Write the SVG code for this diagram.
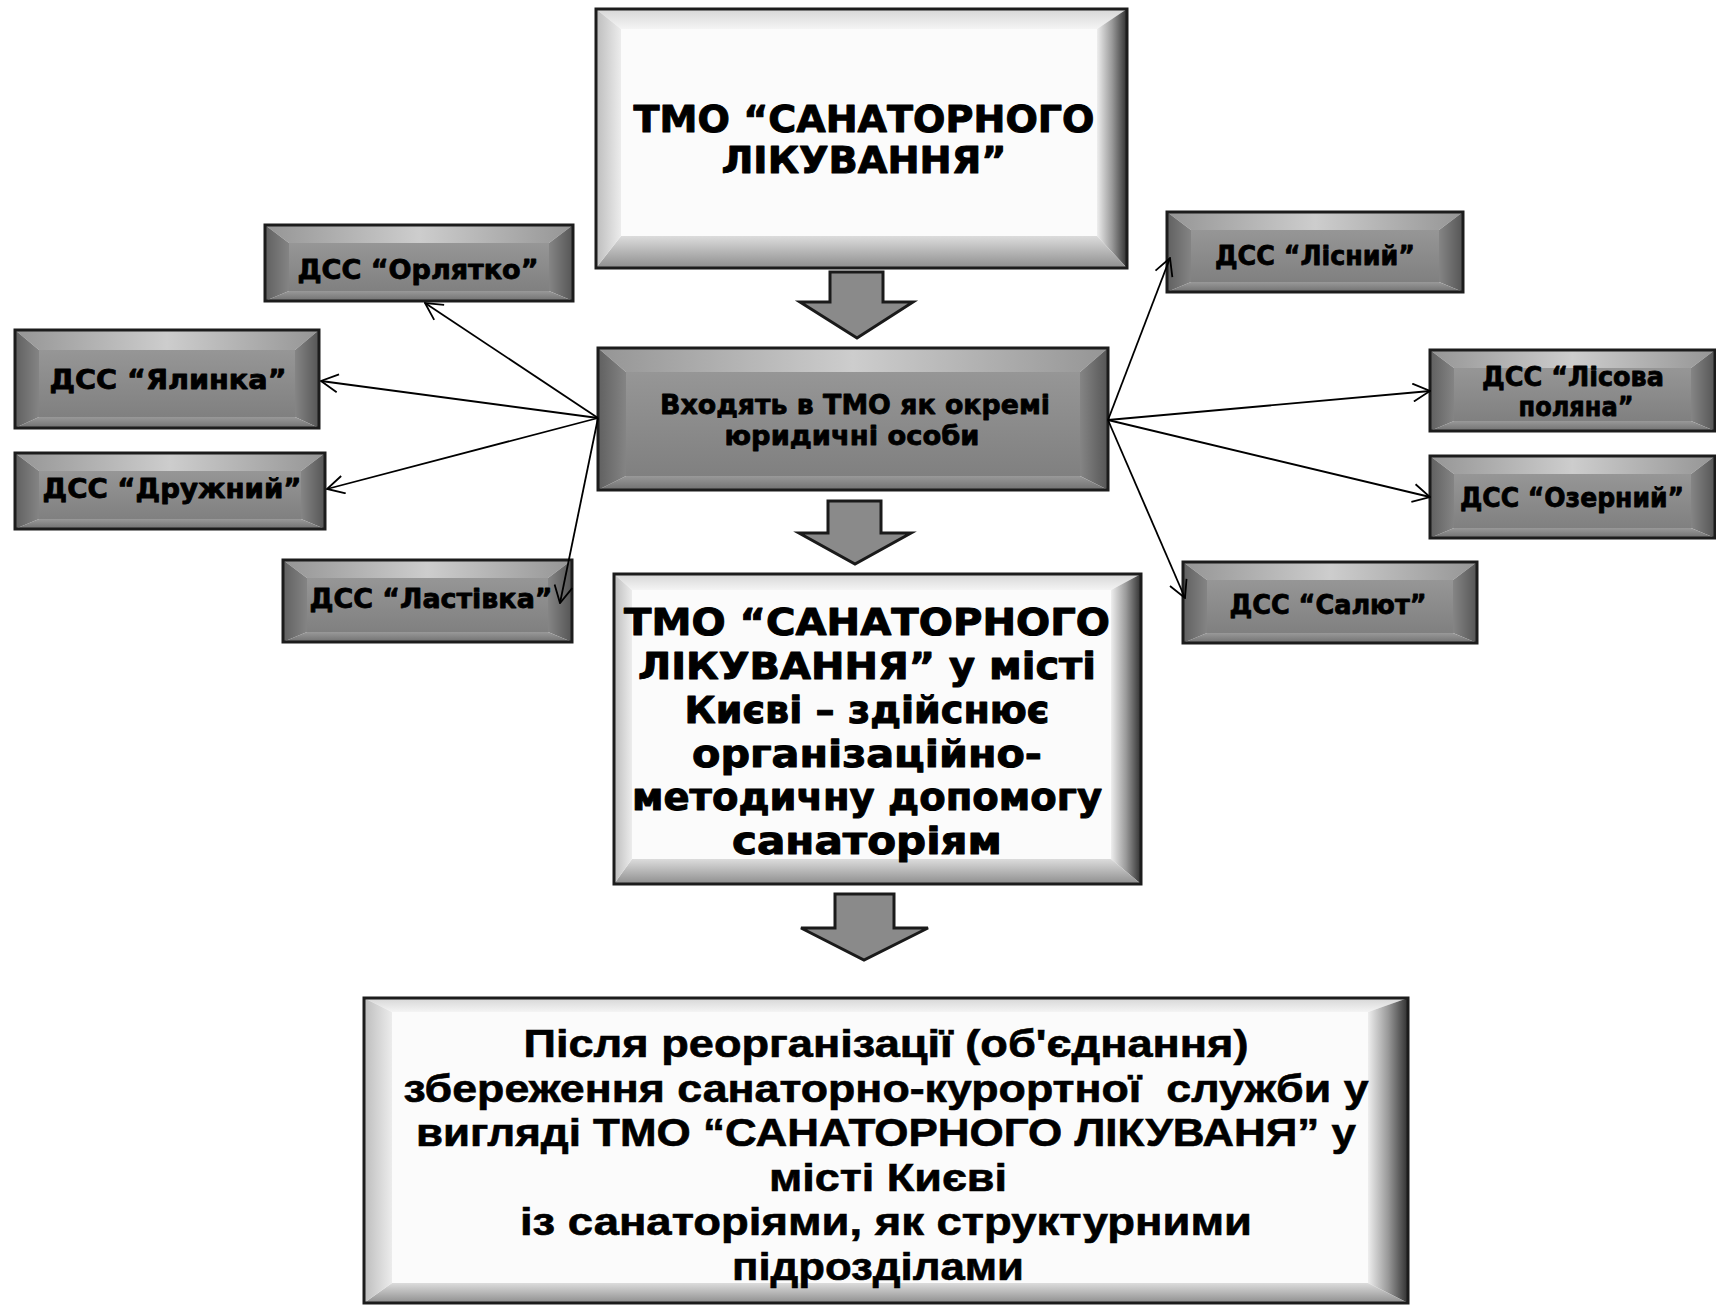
<svg xmlns="http://www.w3.org/2000/svg" width="1716" height="1305" viewBox="0 0 1716 1305">
<defs>
<linearGradient id="wT" x1="0" y1="0" x2="0" y2="1"><stop offset="0" stop-color="#d6d6d6"/><stop offset="1" stop-color="#f4f4f4"/></linearGradient>
<linearGradient id="wL" x1="0" y1="0" x2="1" y2="0"><stop offset="0" stop-color="#bdbdbd"/><stop offset="1" stop-color="#ececec"/></linearGradient>
<linearGradient id="wR" x1="0" y1="0" x2="1" y2="0"><stop offset="0" stop-color="#eeeeee"/><stop offset="0.5" stop-color="#9a9a9a"/><stop offset="1" stop-color="#303030"/></linearGradient>
<linearGradient id="wB" x1="0" y1="0" x2="0" y2="1"><stop offset="0" stop-color="#dcdcdc"/><stop offset="1" stop-color="#8e8e8e"/></linearGradient>
<linearGradient id="dT" x1="0" y1="0" x2="1" y2="0"><stop offset="0" stop-color="#959595"/><stop offset="0.5" stop-color="#cdcdcd"/><stop offset="1" stop-color="#959595"/></linearGradient>
<linearGradient id="dL" x1="0" y1="0" x2="1" y2="0"><stop offset="0" stop-color="#606060"/><stop offset="1" stop-color="#848484"/></linearGradient>
<linearGradient id="dR" x1="0" y1="0" x2="1" y2="0"><stop offset="0" stop-color="#858585"/><stop offset="1" stop-color="#555"/></linearGradient>
<linearGradient id="dB" x1="0" y1="0" x2="0" y2="1"><stop offset="0" stop-color="#999"/><stop offset="1" stop-color="#707070"/></linearGradient>
<linearGradient id="dF" x1="0" y1="0" x2="0" y2="1"><stop offset="0" stop-color="#969696"/><stop offset="1" stop-color="#808080"/></linearGradient>
<marker id="arr" viewBox="0 0 20 20" refX="19" refY="10" markerWidth="20" markerHeight="20" markerUnits="userSpaceOnUse" orient="auto">
<path d="M2,1 L19,10 L2,19" fill="none" stroke="#000" stroke-width="1.8"/>
</marker>
</defs>
<style>
.w .t{fill:url(#wT)} .w .r{fill:url(#wR)} .w .b{fill:url(#wB)} .w .l{fill:url(#wL)} .w .f{fill:#fbfbfb}
.d .t{fill:url(#dT)} .d .r{fill:url(#dR)} .d .b{fill:url(#dB)} .d .l{fill:url(#dL)} .d .f{fill:url(#dF)}
.bd{fill:none;stroke:#1c1c1c;stroke-width:3}
.k{font-family:"DejaVu Sans","Liberation Sans",sans-serif;font-weight:bold;text-anchor:middle;fill:#000;stroke:#000;stroke-width:1;stroke-linejoin:round}
.dss{font-size:26px;stroke-width:0.8}
.n{font-family:"Liberation Sans","DejaVu Sans",sans-serif;font-weight:bold;text-anchor:middle;fill:#000;font-size:38px;stroke:#000;stroke-width:0.6}
.big{fill:#8a8a8a;stroke:#1a1a1a;stroke-width:3}
.conn line{stroke:#000;stroke-width:1.8;marker-end:url(#arr)}
</style>
<rect width="1716" height="1305" fill="#fff"/>

<g id="tmo-top" class="w">
<polygon class="t" points="596,9 1127,9 1097,29 621,29"/>
<polygon class="r" points="1127,9 1127,268 1097,236 1097,29"/>
<polygon class="b" points="596,268 1127,268 1097,236 621,236"/>
<polygon class="l" points="596,9 621,29 621,236 596,268"/>
<rect class="f" x="621" y="29" width="476" height="207"/>
<rect class="bd" x="596" y="9" width="531" height="259"/>
<text class="k" font-size="38" x="864" y="132" textLength="461" lengthAdjust="spacingAndGlyphs">ТМО “САНАТОРНОГО</text>
<text class="k" font-size="38" x="864" y="173" textLength="285" lengthAdjust="spacingAndGlyphs">ЛІКУВАННЯ”</text>
</g>

<g id="vkhodyat" class="d">
<polygon class="t" points="598,348 1108,348 1080,372 626,372"/>
<polygon class="r" points="1108,348 1108,490 1080,476 1080,372"/>
<polygon class="b" points="598,490 1108,490 1080,476 626,476"/>
<polygon class="l" points="598,348 626,372 626,476 598,490"/>
<rect class="f" x="626" y="372" width="454" height="104"/>
<rect class="bd" x="598" y="348" width="510" height="142"/>
<text class="k" font-size="27" x="855" y="414" textLength="390" lengthAdjust="spacingAndGlyphs" style="stroke-width:0.8">Входять в ТМО як окремі</text>
<text class="k" font-size="27" x="852" y="445" textLength="255" lengthAdjust="spacingAndGlyphs" style="stroke-width:0.8">юридичні особи</text>
</g>

<g id="orlyatko" class="d">
<polygon class="t" points="265,225 573,225 549,243 289,243"/>
<polygon class="r" points="573,225 573,301 549,291 549,243"/>
<polygon class="b" points="265,301 573,301 549,291 289,291"/>
<polygon class="l" points="265,225 289,243 289,291 265,301"/>
<rect class="f" x="289" y="243" width="260" height="48"/>
<rect class="bd" x="265" y="225" width="308" height="76"/>
<text class="k dss" x="418" y="279" textLength="241" lengthAdjust="spacingAndGlyphs">ДСС “Орлятко”</text>
</g>

<g id="yalynka" class="d">
<polygon class="t" points="15,330 319,330 295,350 39,350"/>
<polygon class="r" points="319,330 319,428 295,417 295,350"/>
<polygon class="b" points="15,428 319,428 295,417 39,417"/>
<polygon class="l" points="15,330 39,350 39,417 15,428"/>
<rect class="f" x="39" y="350" width="256" height="67"/>
<rect class="bd" x="15" y="330" width="304" height="98"/>
<text class="k dss" x="168" y="389" textLength="237" lengthAdjust="spacingAndGlyphs">ДСС “Ялинка”</text>
</g>

<g id="druzhnyi" class="d">
<polygon class="t" points="15,453 325,453 301,471 39,471"/>
<polygon class="r" points="325,453 325,529 301,519 301,471"/>
<polygon class="b" points="15,529 325,529 301,519 39,519"/>
<polygon class="l" points="15,453 39,471 39,519 15,529"/>
<rect class="f" x="39" y="471" width="262" height="48"/>
<rect class="bd" x="15" y="453" width="310" height="76"/>
<text class="k dss" x="172" y="498" textLength="259" lengthAdjust="spacingAndGlyphs">ДСС “Дружний”</text>
</g>

<g id="lastivka" class="d">
<polygon class="t" points="283,560 572,560 548,578 307,578"/>
<polygon class="r" points="572,560 572,642 548,632 548,578"/>
<polygon class="b" points="283,642 572,642 548,632 307,632"/>
<polygon class="l" points="283,560 307,578 307,632 283,642"/>
<rect class="f" x="307" y="578" width="241" height="54"/>
<rect class="bd" x="283" y="560" width="289" height="82"/>
<text class="k dss" x="431" y="608" textLength="243" lengthAdjust="spacingAndGlyphs">ДСС “Ластівка”</text>
</g>

<g id="lisnyi" class="d">
<polygon class="t" points="1167,212 1463,212 1439,230 1191,230"/>
<polygon class="r" points="1463,212 1463,292 1439,282 1439,230"/>
<polygon class="b" points="1167,292 1463,292 1439,282 1191,282"/>
<polygon class="l" points="1167,212 1191,230 1191,282 1167,292"/>
<rect class="f" x="1191" y="230" width="248" height="52"/>
<rect class="bd" x="1167" y="212" width="296" height="80"/>
<text class="k dss" x="1315" y="265" textLength="200" lengthAdjust="spacingAndGlyphs">ДСС “Лісний”</text>
</g>

<g id="lisova-polyana" class="d">
<polygon class="t" points="1430,350 1715,350 1691,368 1454,368"/>
<polygon class="r" points="1715,350 1715,431 1691,421 1691,368"/>
<polygon class="b" points="1430,431 1715,431 1691,421 1454,421"/>
<polygon class="l" points="1430,350 1454,368 1454,421 1430,431"/>
<rect class="f" x="1454" y="368" width="237" height="53"/>
<rect class="bd" x="1430" y="350" width="285" height="81"/>
<text class="k dss" x="1573" y="386" textLength="182" lengthAdjust="spacingAndGlyphs">ДСС “Лісова</text>
<text class="k dss" x="1576" y="416" textLength="115" lengthAdjust="spacingAndGlyphs">поляна”</text>
</g>

<g id="ozernyi" class="d">
<polygon class="t" points="1430,456 1715,456 1691,474 1454,474"/>
<polygon class="r" points="1715,456 1715,538 1691,528 1691,474"/>
<polygon class="b" points="1430,538 1715,538 1691,528 1454,528"/>
<polygon class="l" points="1430,456 1454,474 1454,528 1430,538"/>
<rect class="f" x="1454" y="474" width="237" height="54"/>
<rect class="bd" x="1430" y="456" width="285" height="82"/>
<text class="k dss" x="1572" y="507" textLength="224" lengthAdjust="spacingAndGlyphs">ДСС “Озерний”</text>
</g>

<g id="salyut" class="d">
<polygon class="t" points="1183,562 1477,562 1453,580 1207,580"/>
<polygon class="r" points="1477,562 1477,643 1453,633 1453,580"/>
<polygon class="b" points="1183,643 1477,643 1453,633 1207,633"/>
<polygon class="l" points="1183,562 1207,580 1207,633 1183,643"/>
<rect class="f" x="1207" y="580" width="246" height="53"/>
<rect class="bd" x="1183" y="562" width="294" height="81"/>
<text class="k dss" x="1328" y="614" textLength="197" lengthAdjust="spacingAndGlyphs">ДСС “Салют”</text>
</g>

<g id="tmo-kyiv" class="w">
<polygon class="t" points="614,574 1141,574 1111,590 632,590"/>
<polygon class="r" points="1141,574 1141,884 1111,859 1111,590"/>
<polygon class="b" points="614,884 1141,884 1111,859 632,859"/>
<polygon class="l" points="614,574 632,590 632,859 614,884"/>
<rect class="f" x="632" y="590" width="479" height="269"/>
<rect class="bd" x="614" y="574" width="527" height="310"/>
<text class="k" font-size="37" x="867" y="635" textLength="486" lengthAdjust="spacingAndGlyphs">ТМО “САНАТОРНОГО</text>
<text class="k" font-size="37" x="867" y="679" textLength="458" lengthAdjust="spacingAndGlyphs">ЛІКУВАННЯ” у місті</text>
<text class="k" font-size="37" x="867" y="723" textLength="365" lengthAdjust="spacingAndGlyphs">Києві – здійснює</text>
<text class="k" font-size="37" x="867" y="767" textLength="350" lengthAdjust="spacingAndGlyphs">організаційно-</text>
<text class="k" font-size="37" x="867" y="810" textLength="470" lengthAdjust="spacingAndGlyphs">методичну допомогу</text>
<text class="k" font-size="37" x="867" y="854" textLength="270" lengthAdjust="spacingAndGlyphs">санаторіям</text>
</g>

<g id="after-reorg" class="w">
<polygon class="t" points="364,998 1408,998 1368,1012 392,1012"/>
<polygon class="r" points="1408,998 1408,1303 1368,1283 1368,1012"/>
<polygon class="b" points="364,1303 1408,1303 1368,1283 392,1283"/>
<polygon class="l" points="364,998 392,1012 392,1283 364,1303"/>
<rect class="f" x="392" y="1012" width="976" height="271"/>
<rect class="bd" x="364" y="998" width="1044" height="305"/>
<text class="n" x="886" y="1057" textLength="725" lengthAdjust="spacingAndGlyphs">Після реорганізації (об'єднання)</text>
<text class="n" x="886" y="1102" textLength="965" lengthAdjust="spacingAndGlyphs" xml:space="preserve">збереження санаторно-курортної  служби у</text>
<text class="n" x="886" y="1146" textLength="940" lengthAdjust="spacingAndGlyphs">вигляді ТМО “САНАТОРНОГО ЛІКУВАНЯ” у</text>
<text class="n" x="888" y="1191" textLength="238" lengthAdjust="spacingAndGlyphs">місті Києві</text>
<text class="n" x="886" y="1235" textLength="732" lengthAdjust="spacingAndGlyphs">із санаторіями, як структурними</text>
<text class="n" x="878" y="1280" textLength="292" lengthAdjust="spacingAndGlyphs">підрозділами</text>
</g>

<g id="block-arrows">
<polygon class="big" points="830,272 883,272 883,302 913,302 857,338 800,302 830,302"/>
<polygon class="big" points="828,501 881,501 881,533 911,533 855,564 799,533 828,533"/>
<polygon class="big" points="835,894 894,894 894,928 928,928 864,960 801,928 835,928"/>
</g>

<g id="connectors" class="conn">
<line x1="598" y1="418" x2="425" y2="303"/>
<line x1="598" y1="418" x2="321" y2="381"/>
<line x1="598" y1="418" x2="327" y2="489"/>
<line x1="598" y1="418" x2="560" y2="603"/>
<line x1="1108" y1="420" x2="1170" y2="258"/>
<line x1="1108" y1="420" x2="1430" y2="391"/>
<line x1="1108" y1="420" x2="1430" y2="497"/>
<line x1="1108" y1="420" x2="1185" y2="598"/>
</g>
</svg>
